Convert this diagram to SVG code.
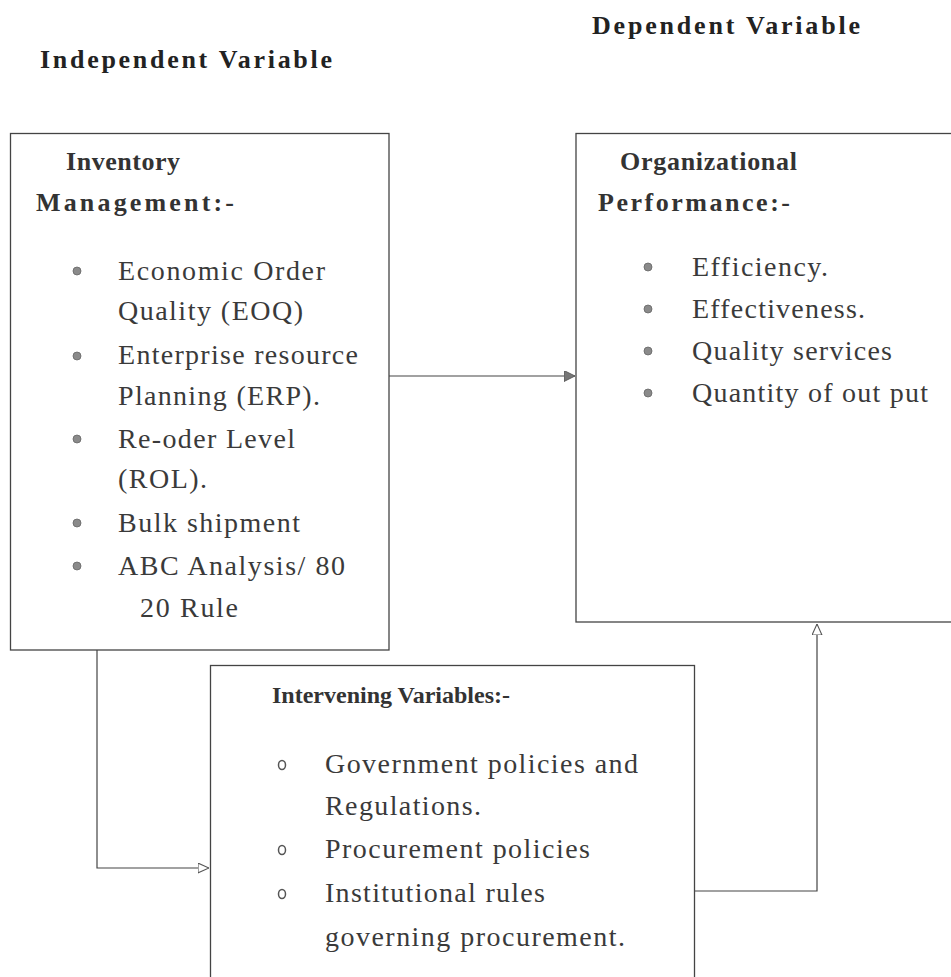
<svg xmlns="http://www.w3.org/2000/svg" width="951" height="977" viewBox="0 0 951 977">
<defs>
<style>
.title{font-family:"Liberation Serif","Times New Roman",serif;font-weight:bold;font-size:26px;fill:#222}
.head{font-family:"Liberation Serif","Times New Roman",serif;font-weight:bold;font-size:26px;fill:#333}
.head2{font-family:"Liberation Serif","Times New Roman",serif;font-weight:bold;font-size:24px;fill:#333}
.body{font-family:"Liberation Serif","Times New Roman",serif;font-size:28px;fill:#3a3a3a}
.box{fill:#fff;stroke:#444;stroke-width:1.3}
.dot{fill:#8a8a8a;stroke:#666;stroke-width:0.8}
.ring{fill:none;stroke:#555;stroke-width:1.5}
.conn{fill:none;stroke:#444;stroke-width:1.2}
</style>
<marker id="arrFill" viewBox="0 0 10 10" refX="10" refY="5" markerWidth="11" markerHeight="11" markerUnits="userSpaceOnUse" orient="auto">
<path d="M0,0 L10,5 L0,10 Z" fill="#777" stroke="#555" stroke-width="0.8"/>
</marker>
<marker id="arrOpen" viewBox="0 0 10 10" refX="10" refY="5" markerWidth="11" markerHeight="11" markerUnits="userSpaceOnUse" orient="auto">
<path d="M0,0.5 L10,5 L0,9.5 Z" fill="#fff" stroke="#555" stroke-width="1"/>
</marker>
</defs>
<rect width="951" height="977" fill="#fff"/>

<g id="titles">
<text class="title" x="592" y="34" textLength="268" lengthAdjust="spacing">Dependent Variable</text>
<text class="title" x="40" y="68" textLength="292" lengthAdjust="spacing">Independent Variable</text>
</g>

<g id="inventory">
<rect class="box" x="10.5" y="133.5" width="378.5" height="516.5"/>
<text class="head" x="66" y="170" textLength="114" lengthAdjust="spacing">Inventory</text>
<text class="head" x="36" y="211" textLength="198" lengthAdjust="spacing">Management:-</text>
<circle class="dot" cx="77" cy="271" r="4"/>
<text class="body" x="118" y="280" textLength="207" lengthAdjust="spacing">Economic Order</text>
<text class="body" x="118" y="320" textLength="185" lengthAdjust="spacing">Quality (EOQ)</text>
<circle class="dot" cx="77" cy="356" r="4"/>
<text class="body" x="118" y="364" textLength="240" lengthAdjust="spacing">Enterprise resource</text>
<text class="body" x="118" y="405" textLength="202" lengthAdjust="spacing">Planning (ERP).</text>
<circle class="dot" cx="77" cy="439" r="4"/>
<text class="body" x="118" y="448" textLength="177" lengthAdjust="spacing">Re-oder Level</text>
<text class="body" x="118" y="488" textLength="89" lengthAdjust="spacing">(ROL).</text>
<circle class="dot" cx="77" cy="523" r="4"/>
<text class="body" x="118" y="532" textLength="182" lengthAdjust="spacing">Bulk shipment</text>
<circle class="dot" cx="77" cy="566" r="4"/>
<text class="body" x="118" y="575" textLength="227" lengthAdjust="spacing">ABC Analysis/ 80</text>
<text class="body" x="140" y="617" textLength="98" lengthAdjust="spacing">20 Rule</text>
</g>

<g id="performance">
<rect class="box" x="576" y="133.5" width="390" height="488.5"/>
<text class="head" x="620" y="170" textLength="177" lengthAdjust="spacing">Organizational</text>
<text class="head" x="598" y="211" textLength="192" lengthAdjust="spacing">Performance:-</text>
<circle class="dot" cx="648" cy="267" r="4"/>
<text class="body" x="692" y="276" textLength="136" lengthAdjust="spacing">Efficiency.</text>
<circle class="dot" cx="648" cy="309" r="4"/>
<text class="body" x="692" y="318" textLength="173" lengthAdjust="spacing">Effectiveness.</text>
<circle class="dot" cx="648" cy="351" r="4"/>
<text class="body" x="692" y="360" textLength="200" lengthAdjust="spacing">Quality services</text>
<circle class="dot" cx="648" cy="393" r="4"/>
<text class="body" x="692" y="402" textLength="236" lengthAdjust="spacing">Quantity of out put</text>
</g>

<g id="intervening">
<rect class="box" x="210.5" y="665.5" width="484" height="330"/>
<text class="head2" x="272" y="703">Intervening Variables:-</text>
<ellipse class="ring" cx="282" cy="765" rx="3.5" ry="4.5"/>
<text class="body" x="325" y="773" textLength="313" lengthAdjust="spacing">Government policies and</text>
<text class="body" x="325" y="815" textLength="156" lengthAdjust="spacing">Regulations.</text>
<ellipse class="ring" cx="282" cy="850" rx="3.5" ry="4.5"/>
<text class="body" x="325" y="858" textLength="265" lengthAdjust="spacing">Procurement policies</text>
<ellipse class="ring" cx="282" cy="894" rx="3.5" ry="4.5"/>
<text class="body" x="325" y="902" textLength="220" lengthAdjust="spacing">Institutional rules</text>
<text class="body" x="325" y="946" textLength="300" lengthAdjust="spacing">governing procurement.</text>
</g>

<g id="connectors">
<path class="conn" d="M389,376 H575" marker-end="url(#arrFill)"/>
<path class="conn" d="M97,650 V868 H209" marker-end="url(#arrOpen)"/>
<path class="conn" d="M695,891 H817 V624" marker-end="url(#arrOpen)"/>
</g>
</svg>
